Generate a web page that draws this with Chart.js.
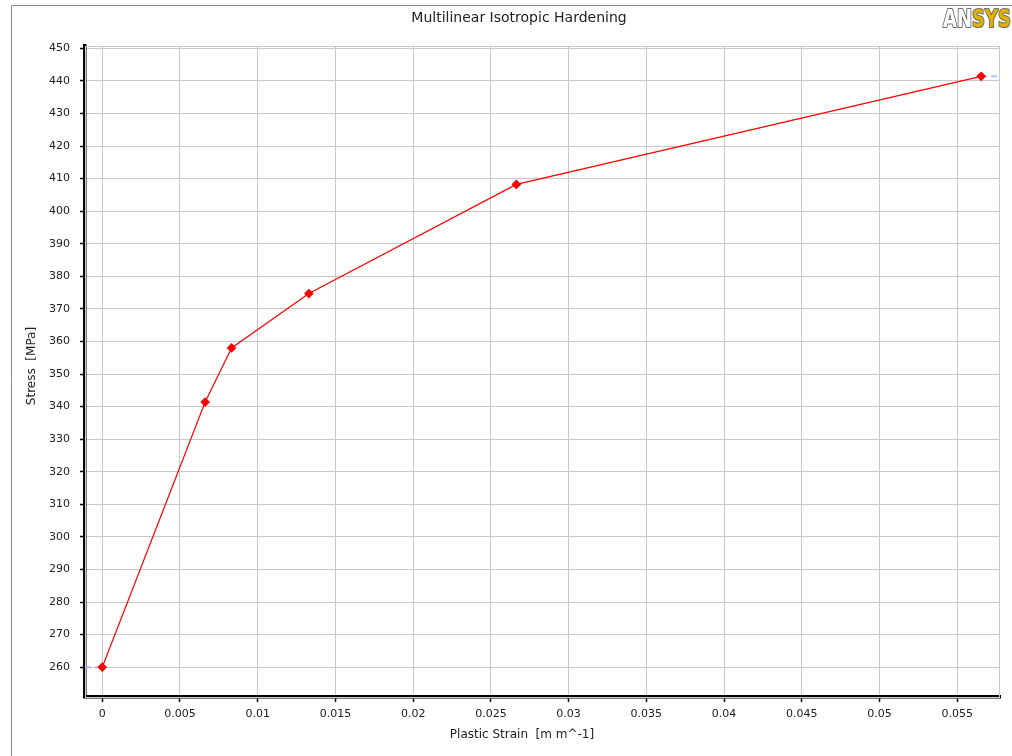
<!DOCTYPE html>
<html>
<head>
<meta charset="utf-8">
<script src="https://cdn.jsdelivr.net/npm/chart.js@4"></script>
<style>
  html, body { margin: 0; padding: 0; background: #fff; }
  #wrap { width: 1012px; height: 756px; position: relative; }
</style>
</head>
<body>
<div id="wrap"><canvas id="c" width="1012" height="756"></canvas></div>
<script>
// ---- data ----
const plasticStrain = [0, 0.00662, 0.00832, 0.01329, 0.02664, 0.05654];
const stressMPa     = [260, 341.4, 358.0, 374.7, 408.2, 441.4];
const xTickValues   = [0, 0.005, 0.01, 0.015, 0.02, 0.025, 0.03, 0.035, 0.04, 0.045, 0.05, 0.055];
const yTickValues   = [260, 270, 280, 290, 300, 310, 320, 330, 340, 350, 360, 370, 380, 390, 400, 410, 420, 430, 440, 450];
const xMin = -0.00111, xMax = 0.05775;
const yMin = 250.85, yMax = 450.7;
const chartTitle = 'Multilinear Isotropic Hardening';
const xTitle = 'Plastic Strain  [m m^-1]';
const yTitle = 'Stress  [MPa]';

const points = plasticStrain.map((x, i) => ({ x, y: stressMPa[i] }));
const last = points.length - 1;
const extLeft  = [{ x: xMin, y: stressMPa[0] }, { x: plasticStrain[0], y: stressMPa[0] }];
const extRight = [{ x: plasticStrain[last], y: stressMPa[last] }, { x: xMax, y: stressMPa[last] }];

const FONT = '"DejaVu Sans", sans-serif';

const decor = {
  id: 'decor',
  beforeDraw(chart) {
    const ctx = chart.ctx;
    ctx.save();
    ctx.fillStyle = '#fff';
    ctx.fillRect(0, 0, chart.width, chart.height);
    ctx.strokeStyle = '#8c8c8c';
    ctx.lineWidth = 1;
    ctx.beginPath();
    ctx.moveTo(11.5, 756);
    ctx.lineTo(11.5, 5.5);
    ctx.lineTo(1012, 5.5);
    ctx.stroke();
    ctx.restore();
  },
  beforeDatasetsDraw(chart) {
    const { ctx, chartArea: a } = chart;
    ctx.save();
    ctx.strokeStyle = '#c8c8c8';
    ctx.lineWidth = 1;
    ctx.strokeRect(a.left + 0.5, a.top + 0.5, a.right - a.left - 1, a.bottom - a.top);
    ctx.restore();
  },
  afterDraw(chart) {
    const ctx = chart.ctx;
    ctx.save();
    ctx.fillStyle = '#222';
    ctx.textBaseline = 'middle';
    ctx.textAlign = 'center';
    ctx.font = '14px ' + FONT;
    ctx.fillText(chartTitle, 519, 18);
    ctx.font = '12px ' + FONT;
    ctx.fillText(xTitle, 522, 735);
    ctx.translate(32, 366);
    ctx.rotate(-Math.PI / 2);
    ctx.fillText(yTitle, 0, 0);
    ctx.restore();

    // logo
    ctx.save();
    ctx.translate(943, 27);
    ctx.scale(0.8, 1);
    ctx.font = 'bold 25px "DejaVu Sans Condensed", "DejaVu Sans", sans-serif';
    ctx.textAlign = 'left';
    ctx.textBaseline = 'alphabetic';
    ctx.lineWidth = 2.2;
    ctx.lineJoin = 'round';
    ctx.strokeStyle = '#6e6e6e';
    ctx.strokeText('AN', 0, 0);
    ctx.fillStyle = '#ffffff';
    ctx.fillText('AN', 0, 0);
    const w = ctx.measureText('AN').width;
    ctx.strokeText('SYS', w, 0);
    ctx.fillStyle = '#e0b000';
    ctx.fillText('SYS', w, 0);
    ctx.restore();
  }
};

const extStyle = {
  showLine: true,
  borderColor: 'rgba(170,170,255,0.8)',
  borderWidth: 2,
  borderDash: [6, 4],
  pointRadius: 0,
  order: 1
};

new Chart(document.getElementById('c'), {
  type: 'scatter',
  data: {
    datasets: [
      {
        data: points,
        showLine: true,
        borderColor: 'rgb(255,0,0)',
        backgroundColor: 'rgb(255,0,0)',
        borderWidth: 1.2,
        pointStyle: 'rectRot',
        pointRadius: 4,
        pointHoverRadius: 4,
        tension: 0,
        order: 0
      },
      Object.assign({ data: extLeft }, extStyle),
      Object.assign({ data: extRight }, extStyle)
    ]
  },
  options: {
    responsive: false,
    animation: false,
    events: [],
    layout: { padding: { left: 0, top: 46, right: 12, bottom: 0 } },
    plugins: { legend: { display: false }, tooltip: { enabled: false }, title: { display: false } },
    scales: {
      x: {
        type: 'linear',
        min: xMin,
        max: xMax,
        afterBuildTicks: s => { s.ticks = xTickValues.map(v => ({ value: v })); },
        afterFit: s => { s.height = 59; },
        grid: { color: '#c8c8c8', lineWidth: 1, tickColor: '#000', tickLength: 5, tickWidth: 1.5 },
        border: { color: '#000', width: 3.5 },
        ticks: {
          font: { family: FONT, size: 11 },
          color: '#222',
          padding: 6,
          maxRotation: 0,
          autoSkip: false,
          callback: v => String(+v.toFixed(4))
        }
      },
      y: {
        type: 'linear',
        min: yMin,
        max: yMax,
        afterBuildTicks: s => { s.ticks = yTickValues.map(v => ({ value: v })); },
        afterFit: s => { s.width = 85; },
        grid: { color: '#c8c8c8', lineWidth: 1, tickColor: '#000', tickLength: 5, tickWidth: 1.5 },
        border: { color: '#000', width: 3.5 },
        ticks: {
          font: { family: FONT, size: 11 },
          color: '#222',
          padding: 10,
          autoSkip: false,
          callback: v => String(v)
        }
      }
    }
  },
  plugins: [decor]
});
</script>
</body>
</html>
